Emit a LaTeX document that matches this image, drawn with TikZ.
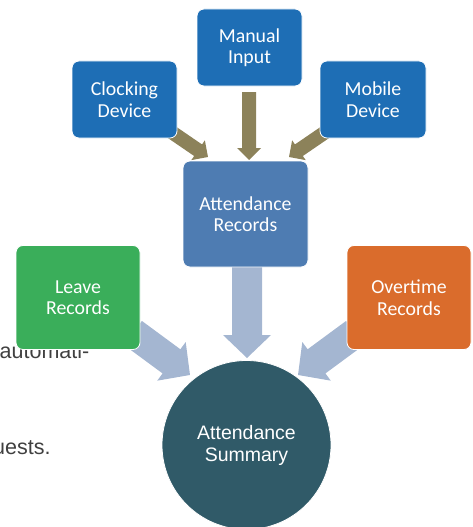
\documentclass[tikz,border=0pt]{standalone}
\usepackage{fontspec}
\setmainfont{Carlito}
\newfontfamily\arialf{Liberation Sans}
\usetikzlibrary{calc,backgrounds}
\definecolor{boxblue}{HTML}{1E6EB5}
\definecolor{recblue}{HTML}{4E7CB2}
\definecolor{leavegreen}{HTML}{3AAE5A}
\definecolor{overorange}{HTML}{DA6C2C}
\definecolor{sumteal}{HTML}{305A68}
\definecolor{olivearrow}{HTML}{8C825A}
\definecolor{lightarrow}{HTML}{A4B6D1}
\definecolor{bodygray}{HTML}{404040}
% #1 colour, #2 start, #3 tip, #4 shaft half width, #5 head half width, #6 head length
\newcommand\fatarrow[6]{%
  \path[fill=#1] let \p1=(#2), \p2=(#3),
    \n1={atan2(\y2-\y1,\x2-\x1)}, \n2={veclen(\x2-\x1,\y2-\y1)} in
    [shift={(\p1)}, rotate=\n1]
    (0,#4) -- ({\n2-#6},#4) -- ({\n2-#6},#5) -- (\n2,0) --
    ({\n2-#6},-#5) -- ({\n2-#6},-#4) -- (0,-#4) -- cycle;
}
\begin{document}
\begin{tikzpicture}[x=1pt,y=-1pt,
  box/.style={rectangle,rounded corners=7pt,draw=white,line width=0.8pt,
    inner sep=0pt,text=white,align=center,
    font=\fontsize{19.8}{21.5}\selectfont},
  sumnode/.style={circle,minimum size=169pt,inner sep=0pt,fill=sumteal,
    draw=white,line width=0.8pt,text=white,align=center,
    font=\arialf\fontsize{19.5}{22}\selectfont},
  bodytext/.style={anchor=base west,inner sep=0pt,text=bodygray,
    font=\arialf\fontsize{21.5}{24}\selectfont}
]
\useasboundingbox (0,0) rectangle (472,527);

\node[box,fill=boxblue,minimum width=105pt,minimum height=77pt] (manual) at (249.5,47.5) {Manual\\Input};
\node[box,fill=boxblue,minimum width=105pt,minimum height=77pt] (clock) at (124.5,99.5) {Clocking\\Device};
\node[box,fill=boxblue,minimum width=106pt,minimum height=77pt] (mobile) at (373,99.5) {Mobile\\Device};
\node[box,fill=recblue,minimum width=125pt,minimum height=106pt] (attrec) at (245.5,214) {Attendance\\Records};
\node[box,fill=leavegreen,minimum width=124pt,minimum height=104pt] (leave) at (78,297.5) {Leave\\Records};
\node[box,fill=overorange,minimum width=124pt,minimum height=104pt] (over) at (409,297.5) {Overtime\\Records};
\node[sumnode] (sum) at (246.5,445) {Attendance\\Summary};

\coordinate (o1s) at (170,131);
\coordinate (o1e) at (208,157);
\coordinate (o2s) at (249,92);
\coordinate (o2e) at (249,160);
\coordinate (o3s) at (327,131);
\coordinate (o3e) at (289,157);
\coordinate (b1s) at (133,333);
\coordinate (b1e) at (190,375);
\coordinate (b2s) at (247,265);
\coordinate (b2e) at (247,358);
\coordinate (b3s) at (355,333);
\coordinate (b3e) at (298,375);

\begin{scope}[on background layer]
  \node[bodytext] (t1) at (-0.5,358) {automati-};
  \node[bodytext] (t2) at (-7,454) {uests.};
  \fatarrow{olivearrow}{o1s}{o1e}{7}{12}{12}
  \fatarrow{olivearrow}{o2s}{o2e}{7}{12}{12}
  \fatarrow{olivearrow}{o3s}{o3e}{7}{12}{12}
  \fatarrow{lightarrow}{b1s}{b1e}{15}{24}{23}
  \fatarrow{lightarrow}{b2s}{b2e}{15}{24}{23}
  \fatarrow{lightarrow}{b3s}{b3e}{15}{24}{23}
\end{scope}
\end{tikzpicture}
\end{document}
